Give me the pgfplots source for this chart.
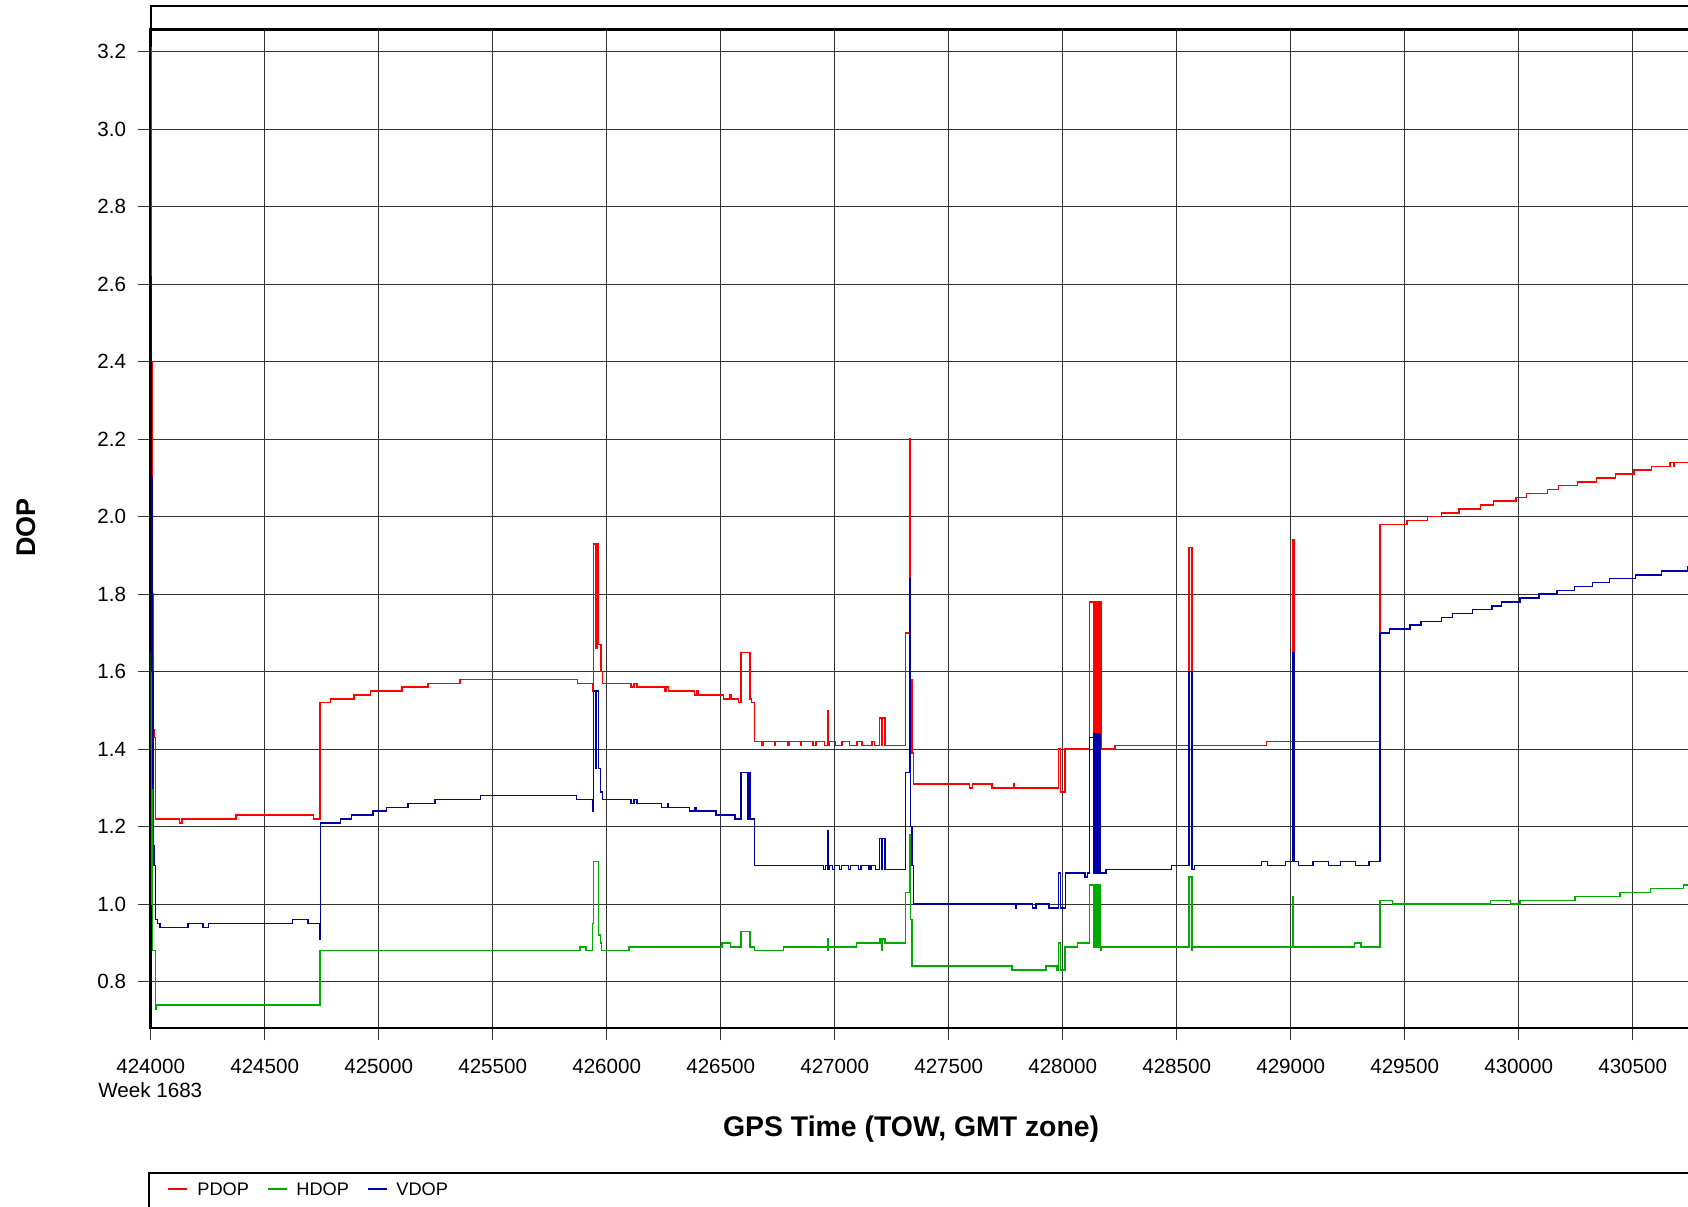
\documentclass[border=0pt]{standalone}
\usepackage{fontspec}
\setmainfont{Liberation Sans}
\usepackage{pgfplots}
\pgfplotsset{compat=1.18}
\definecolor{pdop}{RGB}{255,0,0}
\definecolor{hdop}{RGB}{0,170,0}
\definecolor{vdop}{RGB}{0,0,170}
\begin{document}
\begin{tikzpicture}
\begin{axis}[
  scale only axis, width=775.2pt, height=499.1pt,
  xmin=424000, xmax=430800, ymin=0.6813, ymax=3.2573,
  axis line style={line width=1.2pt},
  xtick={424000,424500,425000,425500,426000,426500,427000,427500,428000,428500,429000,429500,430000,430500},
  ytick={0.8,1.0,1.2,1.4,1.6,1.8,2.0,2.2,2.4,2.6,2.8,3.0,3.2},
  scaled x ticks=false, scaled y ticks=false,
  tick pos=left, tick align=outside, major tick length=6.3pt,
  tick style={black!80, line width=0.65pt},
  grid=major, major grid style={black!80, line width=0.65pt},
  ticklabel style={font=\fontsize{10.3}{12}\selectfont},
  xticklabel shift=6pt, yticklabel shift=2.5pt,
  /pgf/number format/assume math mode=true,
  xticklabel style={/pgf/number format/.cd, fixed, precision=0, 1000 sep={}},
  yticklabel style={/pgf/number format/.cd, fixed, fixed zerofill, precision=1},
]
\addplot[const plot, pdop, line width=0.75pt] coordinates {
(424000,3.21)(424003,2.4)(424006,1.8)(424009,1.6)(424012,1.45)(424016,1.43)(424022,1.22)
(424126,1.21)(424138,1.22)(424374,1.23)(424713,1.22)(424742,1.52)(424789,1.53)(424891,1.54)
(424965,1.55)(425102,1.56)(425217,1.57)(425356,1.58)(425871,1.57)(425938,1.55)(425942,1.93)
(425954,1.66)(425957,1.93)(425964,1.67)(425976,1.60)(425981,1.57)(426107,1.56)(426120,1.57)
(426132,1.56)(426255,1.55)(426263,1.56)(426270,1.55)(426384,1.54)(426395,1.55)(426400,1.54)
(426512,1.53)(426540,1.54)(426545,1.53)(426577,1.52)(426589,1.65)(426629,1.53)(426636,1.52)
(426648,1.42)(426680,1.41)(426685,1.42)(426735,1.41)(426740,1.42)(426795,1.41)(426800,1.42)
(426850,1.41)(426855,1.42)(426905,1.41)(426918,1.42)(426955,1.41)(426968,1.50)(426971,1.41)
(426975,1.42)(427003,1.41)(427032,1.42)(427064,1.41)(427097,1.42)(427119,1.41)(427163,1.42)
(427175,1.41)(427197,1.48)(427207,1.41)(427210,1.48)(427221,1.41)(427311,1.70)(427327,2.20)
(427333,1.58)(427338,1.39)(427345,1.31)(427591,1.30)(427605,1.31)(427690,1.30)(427784,1.31)
(427787,1.30)(427981,1.40)(427991,1.29)(428010,1.40)(428117,1.78)
(428134,1.40)(428136,1.78)(428138,1.40)(428140,1.78)(428142,1.40)(428144,1.78)(428146,1.40)
(428148,1.78)(428150,1.40)(428152,1.78)(428154,1.40)(428156,1.78)(428158,1.40)(428160,1.78)
(428162,1.40)(428164,1.78)(428166,1.78)
(428168,1.40)(428229,1.41)(428555,1.92)(428567,1.41)(428894,1.42)(429008,1.94)(429015,1.42)
(429391,1.98)(429509,1.99)(429599,2.00)(429662,2.01)(429738,2.02)(429833,2.03)(429889,2.04)
(429988,2.05)(430035,2.06)(430127,2.07)(430174,2.08)(430257,2.09)(430342,2.10)(430425,2.11)
(430506,2.12)(430583,2.13)(430664,2.14)(430680,2.13)(430684,2.14)(430800,2.14)
};
\addplot[const plot, hdop, line width=0.75pt] coordinates {
(424000,1.65)(424002,1.40)(424005,1.00)(424008,0.88)(424022,0.73)(424024,0.74)(424742,0.88)
(425883,0.89)(425909,0.88)(425938,0.95)(425941,1.11)(425964,0.92)(425972,0.90)(425978,0.88)
(426098,0.89)(426505,0.90)(426544,0.89)(426588,0.93)(426629,0.89)(426648,0.88)(426775,0.89)
(426968,0.91)(426970,0.88)(426972,0.89)(427096,0.90)(427199,0.91)(427205,0.88)(427208,0.91)
(427221,0.90)(427311,1.03)(427327,1.18)(427333,0.96)(427338,0.84)(427777,0.83)(427926,0.84)
(427974,0.83)(427981,0.90)(427991,0.83)(428010,0.89)(428064,0.90)(428117,1.05)
(428134,0.89)(428136,1.05)(428138,0.89)(428140,1.05)(428142,0.89)(428144,1.05)(428146,0.89)
(428148,1.05)(428150,0.89)(428152,1.05)(428154,0.89)(428156,1.05)(428158,0.89)(428160,1.05)
(428162,0.89)(428164,1.05)(428166,0.88)
(428168,0.89)(428555,1.07)(428567,0.88)(428570,0.89)(429008,1.02)(429012,0.89)(429279,0.90)
(429308,0.89)(429391,1.01)(429446,1.00)(429877,1.01)(429965,1.00)(430006,1.01)(430247,1.02)
(430444,1.03)(430579,1.04)(430722,1.05)(430800,1.05)
};
\addplot[const plot, vdop, line width=0.75pt] coordinates {
(424000,2.62)(424003,2.1)(424006,1.6)(424009,1.3)(424012,1.15)(424015,1.10)(424022,0.96)
(424029,0.95)(424041,0.94)(424163,0.95)(424229,0.94)(424254,0.95)(424623,0.96)(424690,0.95)
(424740,0.91)(424745,1.21)(424833,1.22)(424880,1.23)(424975,1.24)(425034,1.25)(425129,1.26)
(425246,1.27)(425447,1.28)(425868,1.27)(425938,1.24)(425941,1.55)(425950,1.35)(425953,1.55)
(425964,1.35)(425972,1.29)(425981,1.27)(426107,1.26)(426120,1.27)(426132,1.26)(426241,1.25)
(426268,1.26)(426271,1.25)(426363,1.24)(426388,1.25)(426391,1.24)(426479,1.23)(426563,1.22)
(426588,1.34)(426620,1.22)(426623,1.34)(426629,1.22)(426648,1.10)(426950,1.09)(426960,1.10)
(426968,1.19)(426971,1.09)(426975,1.10)(426990,1.09)(427000,1.10)(427020,1.09)(427030,1.10)
(427060,1.09)(427070,1.10)(427105,1.09)(427115,1.10)(427150,1.09)(427160,1.10)(427180,1.09)
(427197,1.17)(427207,1.09)(427210,1.17)(427221,1.09)(427311,1.34)(427327,1.84)(427333,1.20)
(427338,1.10)(427345,1.00)(427795,0.99)(427798,1.00)(427867,0.99)(427883,1.00)(427940,0.99)
(427981,1.08)(427991,0.99)(428013,1.08)(428098,1.07)(428108,1.08)(428117,1.43)
(428134,1.08)(428136,1.44)(428138,1.08)(428140,1.44)(428142,1.08)(428144,1.44)(428146,1.08)
(428148,1.44)(428150,1.08)(428152,1.44)(428154,1.08)(428156,1.44)(428158,1.08)(428160,1.44)
(428162,1.08)(428164,1.44)(428166,1.08)
(428168,1.08)(428190,1.09)(428477,1.10)(428555,1.60)(428567,1.09)(428577,1.10)(428872,1.11)
(428898,1.10)(428978,1.11)(429008,1.65)(429015,1.11)(429034,1.10)(429097,1.11)(429165,1.10)
(429219,1.11)(429285,1.10)(429344,1.11)(429391,1.70)(429433,1.71)(429523,1.72)(429572,1.73)
(429662,1.74)(429709,1.75)(429797,1.76)(429882,1.77)(429925,1.78)(430006,1.79)(430089,1.80)
(430167,1.81)(430244,1.82)(430323,1.83)(430398,1.84)(430513,1.85)(430627,1.86)(430740,1.87)
(430800,1.87)
};
\end{axis}
% labels
\node[rotate=90, font=\bfseries\fontsize{13.5}{16}\selectfont] at (-62.35pt,250.1pt) {DOP};
\node[font=\bfseries\fontsize{14.2}{17}\selectfont] at (380.2pt,-50.65pt) {GPS Time (TOW, GMT zone)};
\node[anchor=west, inner sep=0pt, font=\fontsize{10.3}{12}\selectfont] at (-26.35pt,-31.15pt) {Week 1683};
% top box
\draw[line width=1pt] (0,499.1pt) -- (0,510.85pt) -- (800pt,510.85pt);
% legend
\draw[line width=1pt] (800pt,-72.5pt) -- (-0.85pt,-72.5pt) -- (-0.85pt,-100pt);
\draw[pdop, line width=0.8pt] (8.65pt,-80.65pt) -- (18.15pt,-80.65pt);
\node[anchor=west, inner sep=0pt, font=\fontsize{9.1}{11}\selectfont] at (23.15pt,-80.65pt) {PDOP};
\draw[hdop, line width=0.8pt] (58.65pt,-80.65pt) -- (68.15pt,-80.65pt);
\node[anchor=west, inner sep=0pt, font=\fontsize{9.1}{11}\selectfont] at (72.65pt,-80.65pt) {HDOP};
\draw[vdop, line width=0.8pt] (108.65pt,-80.65pt) -- (118.15pt,-80.65pt);
\node[anchor=west, inner sep=0pt, font=\fontsize{9.1}{11}\selectfont] at (122.65pt,-80.65pt) {VDOP};
\pgfresetboundingbox
\useasboundingbox (-75.35pt,-89.15pt) rectangle (768.65pt,513.85pt);
\end{tikzpicture}
\end{document}
